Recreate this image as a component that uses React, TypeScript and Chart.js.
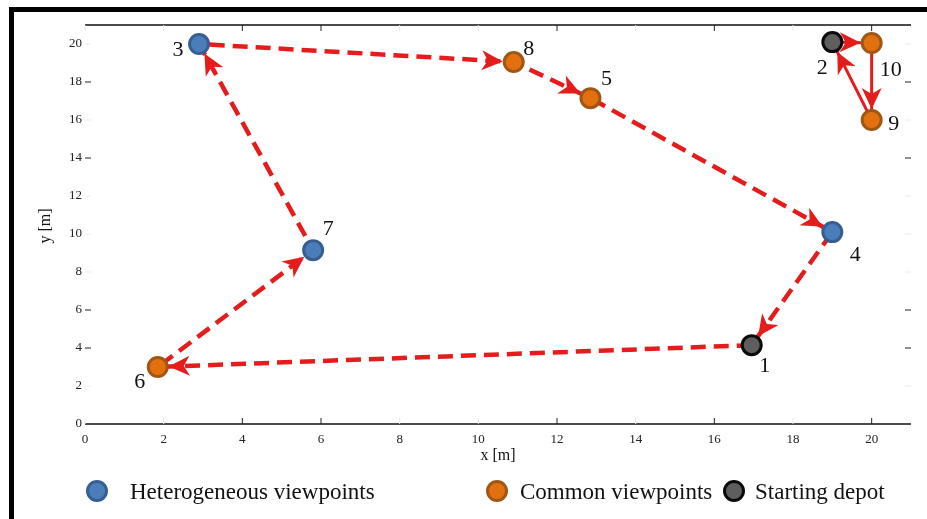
import React, { useEffect, useRef } from "react";
import { Chart, registerables } from "chart.js";

Chart.register(...registerables);

// Viewpoint nodes (metres)
const nodeLabels = ["1", "2", "3", "4", "5", "6", "7", "8", "9", "10"];
const nodeX = [16.95, 19, 2.9, 19, 12.85, 1.85, 5.8, 10.9, 20, 20];
const nodeY = [4.15, 20.1, 20, 10.1, 17.15, 3, 9.15, 19.05, 16, 20.05];
const nodeKind = ["depot", "depot", "hetero", "hetero", "common", "common", "hetero", "common", "common", "common"];

// Routes as sequences of node labels
const tourDashed = ["1", "6", "7", "3", "8", "5", "4", "1"];
const tourSolid = ["2", "10", "9", "2"];

// Axis ticks
const xTickValues = [0, 2, 4, 6, 8, 10, 12, 14, 16, 18, 20];
const yTickValues = [0, 2, 4, 6, 8, 10, 12, 14, 16, 18, 20];
const xStrongTicks = [4, 6, 12, 16, 20];
const yStrongTicks = [4, 6, 14, 18];

const legendLabels = ["Heterogeneous viewpoints", "Common viewpoints", "Starting depot"];
const legendKinds = ["hetero", "common", "depot"];

const SERIF = '"Liberation Serif", "Times New Roman", serif';
const RED = "#e41c1c";

const kindStyle: Record<string, { fill: string; stroke: string }> = {
  hetero: { fill: "#4a7dba", stroke: "#375e91" },
  common: { fill: "#e2700f", stroke: "#9d5716" },
  depot: { fill: "#5e5e5e", stroke: "#0a0a0a" },
};

// label placement around each node, in pixels
const labelOffset: Record<string, [number, number]> = {
  "1": [13, 21],
  "2": [-10, 26],
  "3": [-21, 6],
  "4": [23, 23],
  "5": [16, -19],
  "6": [-18, 15],
  "7": [15, -21],
  "8": [15, -13],
  "9": [22, 4],
  "10": [19, 27],
};

const MARKER_R = 9.5;
const MARKER_W = 3;

function nodePoint(label: string) {
  const i = nodeLabels.indexOf(label);
  return { x: nodeX[i], y: nodeY[i] };
}

function pointsOfKind(kind: string) {
  return nodeLabels
    .map((l, i) => ({ l, i }))
    .filter(({ i }) => nodeKind[i] === kind)
    .map(({ i }) => ({ x: nodeX[i], y: nodeY[i] }));
}

function drawArrowHead(ctx: CanvasRenderingContext2D, x0: number, y0: number, x1: number, y1: number) {
  const dx = x1 - x0;
  const dy = y1 - y0;
  const len = Math.hypot(dx, dy);
  if (len < 1) return;
  const ux = dx / len;
  const uy = dy / len;
  const gap = MARKER_R + MARKER_W / 2;
  const tipX = x1 - ux * gap;
  const tipY = y1 - uy * gap;
  const L = 21;
  const H = 10;
  const notch = 15;
  const bx = tipX - ux * L;
  const by = tipY - uy * L;
  const nx = tipX - ux * notch;
  const ny = tipY - uy * notch;
  ctx.beginPath();
  ctx.moveTo(tipX, tipY);
  ctx.lineTo(bx - uy * H, by + ux * H);
  ctx.lineTo(nx, ny);
  ctx.lineTo(bx + uy * H, by - ux * H);
  ctx.closePath();
  ctx.fill();
}

const arrowPlugin = {
  id: "routeArrows",
  afterDatasetDraw(chart: any, args: any) {
    const ds = chart.data.datasets[args.index];
    if (!ds.drawArrows) return;
    const pts = args.meta.data;
    const ctx = chart.ctx as CanvasRenderingContext2D;
    ctx.save();
    ctx.fillStyle = ds.borderColor;
    for (let i = 1; i < pts.length; i++) {
      drawArrowHead(ctx, pts[i - 1].x, pts[i - 1].y, pts[i].x, pts[i].y);
    }
    ctx.restore();
  },
};

function drawMarker(ctx: CanvasRenderingContext2D, x: number, y: number, kind: string) {
  const s = kindStyle[kind];
  ctx.beginPath();
  ctx.arc(x, y, MARKER_R, 0, Math.PI * 2);
  ctx.fillStyle = s.fill;
  ctx.fill();
  ctx.lineWidth = MARKER_W;
  ctx.strokeStyle = s.stroke;
  ctx.stroke();
}

const framePlugin = {
  id: "frameAndText",
  afterDraw(chart: any) {
    const ctx = chart.ctx as CanvasRenderingContext2D;
    const { left, right, top, bottom } = chart.chartArea;
    const xs = chart.scales.x;
    const ys = chart.scales.y;
    ctx.save();

    // top and bottom axis lines
    ctx.strokeStyle = "#111";
    ctx.lineWidth = 1.5;
    ctx.beginPath();
    ctx.moveTo(left, bottom);
    ctx.lineTo(right, bottom);
    ctx.moveTo(left, top);
    ctx.lineTo(right, top);
    ctx.stroke();

    // inward tick marks
    ctx.lineWidth = 1;
    const T = 6;
    xTickValues.forEach((v) => {
      const px = xs.getPixelForValue(v);
      ctx.strokeStyle = xStrongTicks.includes(v) ? "#222" : "#e8e8e8";
      ctx.beginPath();
      ctx.moveTo(px, bottom);
      ctx.lineTo(px, bottom - T);
      ctx.moveTo(px, top);
      ctx.lineTo(px, top + T);
      ctx.stroke();
    });
    yTickValues.forEach((v) => {
      if (v === 0) return;
      const py = ys.getPixelForValue(v);
      ctx.strokeStyle = yStrongTicks.includes(v) ? "#222" : "#ececec";
      ctx.beginPath();
      ctx.moveTo(left, py);
      ctx.lineTo(left + T, py);
      ctx.moveTo(right, py);
      ctx.lineTo(right - T, py);
      ctx.stroke();
    });

    // node labels
    ctx.fillStyle = "#111";
    ctx.font = `22px ${SERIF}`;
    ctx.textAlign = "center";
    ctx.textBaseline = "middle";
    nodeLabels.forEach((l, i) => {
      const px = xs.getPixelForValue(nodeX[i]);
      const py = ys.getPixelForValue(nodeY[i]);
      const [ox, oy] = labelOffset[l];
      ctx.fillText(l, px + ox, py + oy);
    });

    // axis titles
    ctx.font = `16px ${SERIF}`;
    ctx.fillText("x [m]", (left + right) / 2, bottom + 32);
    ctx.save();
    ctx.translate(46, 226);
    ctx.rotate(-Math.PI / 2);
    ctx.fillText("y [m]", 0, 0);
    ctx.restore();

    // legend
    const legendX = [97, 497, 734];
    const textX = [130, 520, 755];
    const ly = 491;
    ctx.font = `23px ${SERIF}`;
    ctx.textAlign = "left";
    ctx.textBaseline = "alphabetic";
    legendLabels.forEach((t, i) => {
      drawMarker(ctx, legendX[i], ly, legendKinds[i]);
      ctx.fillStyle = "#111";
      ctx.fillText(t, textX[i], ly + 8);
    });

    ctx.restore();
  },
};

export default function App() {
  const canvasRef = useRef<HTMLCanvasElement | null>(null);

  useEffect(() => {
    if (!canvasRef.current) return;
    const markerSet = (kind: string, label: string) => ({
      label,
      data: pointsOfKind(kind),
      showLine: false,
      pointRadius: MARKER_R,
      pointHoverRadius: MARKER_R,
      pointBorderWidth: MARKER_W,
      pointBackgroundColor: kindStyle[kind].fill,
      pointBorderColor: kindStyle[kind].stroke,
    });
    const chart = new Chart(canvasRef.current, {
      type: "scatter",
      data: {
        datasets: [
          markerSet("hetero", legendLabels[0]),
          markerSet("common", legendLabels[1]),
          markerSet("depot", legendLabels[2]),
          {
            label: "route A",
            data: tourDashed.map(nodePoint),
            showLine: true,
            borderColor: RED,
            borderWidth: 4.5,
            borderDash: [15, 8],
            pointRadius: 0,
            tension: 0,
            drawArrows: true,
          } as any,
          {
            label: "route B",
            data: tourSolid.map(nodePoint),
            showLine: true,
            borderColor: RED,
            borderWidth: 3,
            pointRadius: 0,
            tension: 0,
            drawArrows: true,
          } as any,
        ],
      },
      options: {
        animation: false,
        responsive: false,
        devicePixelRatio: 1,
        layout: { padding: { left: 0, top: 25, right: 16, bottom: 0 } },
        plugins: {
          legend: { display: false },
          tooltip: { enabled: false },
        },
        scales: {
          x: {
            type: "linear",
            min: 0,
            max: 21,
            afterFit: (s: any) => {
              s.height = 95;
            },
            afterBuildTicks: (s: any) => {
              s.ticks = xTickValues.map((v) => ({ value: v }));
            },
            grid: { display: false, drawTicks: false },
            border: { display: false },
            ticks: {
              padding: 8,
              color: "#222",
              font: { family: SERIF, size: 13 },
              maxRotation: 0,
            },
          },
          y: {
            type: "linear",
            min: 0,
            max: 21,
            afterFit: (s: any) => {
              s.width = 85;
            },
            afterBuildTicks: (s: any) => {
              s.ticks = yTickValues.map((v) => ({ value: v }));
            },
            grid: { display: false, drawTicks: false },
            border: { display: false },
            ticks: {
              padding: 3,
              color: "#222",
              font: { family: SERIF, size: 13 },
            },
          },
        },
      } as any,
      plugins: [arrowPlugin, framePlugin],
    });
    return () => chart.destroy();
  }, []);

  return (
    <>
      <div
        style={{
          position: "fixed",
          left: 9,
          top: 7,
          width: 940,
          height: 540,
          border: "5px solid #000",
          boxSizing: "border-box",
        }}
      />
      <canvas
        ref={canvasRef}
        width={927}
        height={519}
        style={{ position: "fixed", left: 0, top: 0, width: 927, height: 519 }}
      />
    </>
  );
}
